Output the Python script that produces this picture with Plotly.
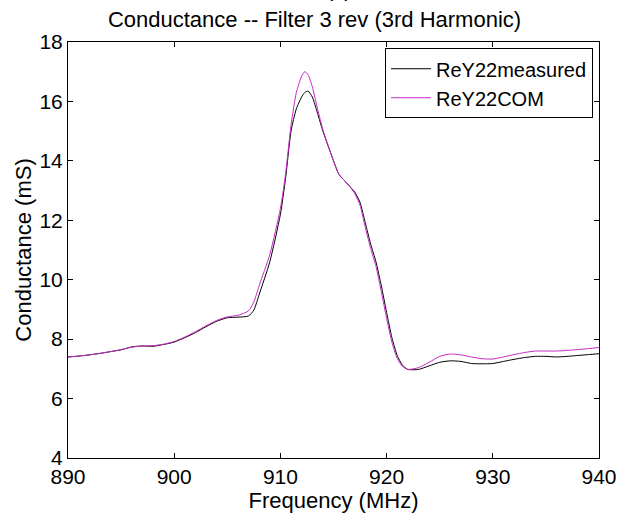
import plotly.graph_objects as go

freq = [890, 891, 892, 893, 894, 895, 896, 897, 898, 899, 900, 901, 902, 903, 904,
        905, 906, 907, 907.5, 908, 909, 910, 910.5, 911, 911.5, 912, 912.3, 912.6,
        913, 913.5, 914, 914.5, 915, 915.5, 916, 916.5, 917, 917.5, 918, 918.5, 919,
        919.5, 920, 920.5, 921, 921.5, 922, 923, 924, 925, 926, 927, 928, 929, 930,
        931, 932, 933, 934, 935, 936, 937, 938, 939, 940]

rey22_measured = [7.40, 7.43, 7.47, 7.52, 7.58, 7.64, 7.74, 7.77, 7.76, 7.82, 7.90,
                  8.05, 8.22, 8.42, 8.60, 8.72, 8.74, 8.78, 8.98, 9.50, 10.60, 12.20,
                  13.45, 15.00, 15.75, 16.15, 16.30, 16.35, 16.15, 15.60, 15.00, 14.50,
                  14.00, 13.55, 13.35, 13.15, 12.95, 12.60, 11.90, 11.20, 10.60, 9.80,
                  8.90, 8.05, 7.45, 7.12, 6.98, 6.98, 7.10, 7.22, 7.27, 7.25, 7.18,
                  7.17, 7.18, 7.25, 7.32, 7.38, 7.42, 7.42, 7.40, 7.42, 7.45, 7.48, 7.51]

rey22_com = [7.40, 7.43, 7.47, 7.52, 7.58, 7.65, 7.73, 7.77, 7.78, 7.83, 7.92,
             8.07, 8.25, 8.45, 8.63, 8.75, 8.80, 8.95, 9.25, 9.80, 10.85, 12.40,
             13.60, 15.20, 16.30, 16.85, 17.00, 16.90, 16.50, 15.75, 15.05, 14.50,
             14.00, 13.55, 13.35, 13.15, 12.90, 12.50, 11.75, 11.05, 10.45, 9.60,
             8.70, 7.90, 7.35, 7.08, 6.98, 7.04, 7.22, 7.42, 7.50, 7.47, 7.40,
             7.34, 7.33, 7.40, 7.48, 7.55, 7.60, 7.60, 7.60, 7.62, 7.65, 7.68, 7.72]

x_ticks = [890, 900, 910, 920, 930, 940]
y_ticks = [4, 6, 8, 10, 12, 14, 16, 18]

FONT = "Liberation Sans, Arial, sans-serif"

fig = go.Figure()
fig.add_trace(go.Scatter(x=freq, y=rey22_measured, mode="lines", name="ReY22measured",
                         line=dict(color="#000000", width=1, shape="spline", smoothing=0.6)))
fig.add_trace(go.Scatter(x=freq, y=rey22_com, mode="lines", name="ReY22COM",
                         line=dict(color="#c828c8", width=1, shape="spline", smoothing=0.6)))

axis_common = dict(showline=True, linecolor="#000000", linewidth=1, mirror="allticks",
                   ticks="inside", ticklen=5, tickcolor="#000000", showgrid=False,
                   zeroline=False, tickfont=dict(family=FONT, size=21, color="#000000"))

fig.update_layout(
    width=629, height=521,
    margin=dict(l=68, r=30, t=42, b=63),
    paper_bgcolor="#ffffff", plot_bgcolor="#ffffff",
    font=dict(family=FONT, size=21, color="#000000"),
    title=dict(text="Conductance -- Filter 3 rev (3rd Harmonic)", x=0.5, xanchor="center",
               y=1 - 19 / 521, yanchor="middle",
               font=dict(family=FONT, size=22, color="#000000")),
    xaxis=dict(range=[890, 940], tickvals=x_ticks,
               title=dict(text="Frequency (MHz)", font=dict(family=FONT, size=22), standoff=4),
               **axis_common),
    yaxis=dict(range=[4, 18], tickvals=y_ticks,
               title=dict(text="Conductance (mS)", font=dict(family=FONT, size=22), standoff=1),
               **axis_common),
    legend=dict(x=0.9887, y=0.985, xanchor="right", yanchor="top",
                bgcolor="#ffffff", bordercolor="#000000", borderwidth=1,
                font=dict(family=FONT, size=20, color="#000000"),
                tracegroupgap=0, itemwidth=40),
    showlegend=True,
    annotations=[dict(text="(c)", xref="paper", yref="paper", x=(339 - 68) / 531,
                      y=1 + 39 / 416, xanchor="center", yanchor="bottom", showarrow=False,
                      font=dict(family=FONT, size=22, color="#000000"))],
)

fig.write_html("out.html", config={"displayModeBar": False},
               post_script="document.body.style.margin='0';document.body.style.padding='0';")
